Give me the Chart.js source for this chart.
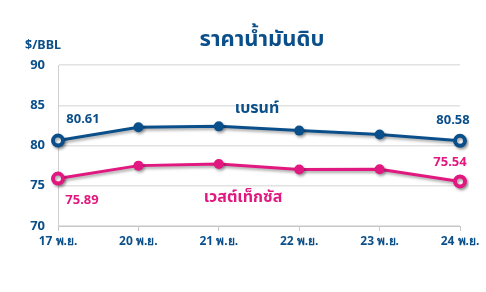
<!DOCTYPE html>
<html>
<head>
<meta charset="utf-8">
<script src="https://cdn.jsdelivr.net/npm/chart.js@4.4.0/dist/chart.umd.min.js"></script>
<style>
  html, body { margin: 0; padding: 0; background: #fff; }
  #wrap { position: relative; width: 486px; height: 292px; }
</style>
</head>
<body>
<div id="wrap"><canvas id="oil-chart"></canvas></div>
<script>
const days = ['17 พ.ย.', '20 พ.ย.', '21 พ.ย.', '22 พ.ย.', '23 พ.ย.', '24 พ.ย.'];
const brent = [80.61, 82.26, 82.38, 81.85, 81.36, 80.58];
const wti = [75.89, 77.50, 77.70, 77.02, 77.05, 75.54];
const y_ticks = [70, 75, 80, 85, 90];

const navy = '#0b4f8a';
const pink = '#e0187f';
const thai_font = "'Noto Sans Thai', 'Noto Sans', Tahoma, sans-serif";
const num_font = "'Noto Sans', Tahoma, sans-serif";

// hollow markers on the first and last point only
const isEnd = (arr, i) => i == 0 || i == arr.length - 1;
const pointRadius = (arr) => arr.map((v, i) => isEnd(arr, i) ? 5 : 5);
const pointFill = (arr, c) => arr.map((v, i) => isEnd(arr, i) ? '#fff' : c);
const pointBorder = (arr) => arr.map((v, i) => isEnd(arr, i) ? 4 : 0);

const shadowPlugin = {
  id: 'shadow',
  beforeDatasetsDraw(chart) {
    const ctx = chart.ctx;
    ctx.save();
    ctx.shadowColor = 'rgba(0,0,0,0.35)';
    ctx.shadowBlur = 3;
    ctx.shadowOffsetX = 1.5;
    ctx.shadowOffsetY = 2;
  },
  afterDatasetsDraw(chart) {
    chart.ctx.restore();
  },
};

const labelsPlugin = {
  id: 'labels',
  afterDraw(chart) {
    const ctx = chart.ctx;
    const x = chart.scales.x;
    const y = chart.scales.y;
    const last = days.length - 1;
    ctx.save();
    ctx.textBaseline = 'middle';
    ctx.textAlign = 'center';

    // title, centred over the plot area
    ctx.font = 'bold 22px ' + thai_font;
    ctx.fillStyle = navy;
    ctx.fillText('ราคาน้ำมันดิบ', 262, 42);

    ctx.font = 'bold 13px ' + num_font;
    ctx.fillStyle = navy;
    ctx.fillText(brent[0].toFixed(2), x.getPixelForValue(0) + 25, y.getPixelForValue(brent[0]) - 21);
    ctx.fillText(brent[last].toFixed(2), x.getPixelForValue(last) - 7, y.getPixelForValue(brent[last]) - 21);
    ctx.fillStyle = pink;
    ctx.fillText(wti[0].toFixed(2), x.getPixelForValue(0) + 24, y.getPixelForValue(wti[0]) + 22);
    ctx.fillText(wti[last].toFixed(2), x.getPixelForValue(last) - 10, y.getPixelForValue(wti[last]) - 19);

    ctx.font = 'bold 16px ' + thai_font;
    ctx.fillStyle = navy;
    ctx.fillText('เบรนท์', 257, 110);
    ctx.fillStyle = pink;
    ctx.fillText('เวสต์เท็กซัส', 243, 199);

    ctx.font = 'bold 12.5px ' + num_font;
    ctx.fillStyle = navy;
    ctx.textAlign = 'left';
    ctx.fillText('$/BBL', 25, 45);
    ctx.restore();
  },
};

const chart = new Chart(document.getElementById('oil-chart').getContext('2d'), {
  type: 'line',
  data: {
    labels: days,
    datasets: [
      {
        label: 'เบรนท์',
        data: brent,
        borderColor: navy,
        backgroundColor: navy,
        borderWidth: 3,
        pointRadius: pointRadius(brent),
        pointBackgroundColor: pointFill(brent, navy),
        pointBorderColor: navy,
        pointBorderWidth: pointBorder(brent),
        tension: 0,
      },
      {
        label: 'เวสต์เท็กซัส',
        data: wti,
        borderColor: pink,
        backgroundColor: pink,
        borderWidth: 3,
        pointRadius: pointRadius(wti),
        pointBackgroundColor: pointFill(wti, pink),
        pointBorderColor: pink,
        pointBorderWidth: pointBorder(wti),
        tension: 0,
      },
    ],
  },
  options: {
    responsive: true,
    maintainAspectRatio: false,
    animation: false,
    layout: { padding: { left: 8, right: 26, top: 65, bottom: 40 } },
    plugins: {
      legend: { display: false },
      tooltip: { enabled: false },
      title: { display: false },
    },
    scales: {
      x: {
        offset: false,
        grid: { drawOnChartArea: false, drawTicks: true, tickLength: 5, color: '#c8c8c8' },
        border: { color: '#c8c8c8', width: 1 },
        ticks: {
          color: navy,
          font: { family: num_font, size: 12, weight: 'bold' },
          maxRotation: 0,
          padding: 3,
        },
        afterFit: (axis) => { axis.height = 26; },
      },
      y: {
        min: 70,
        max: 90,
        afterBuildTicks: (axis) => { axis.ticks = y_ticks.map(v => ({ value: v })); },
        afterFit: (axis) => { axis.width = 50; },
        grid: { color: '#e2e2e2', lineWidth: 1.5, drawTicks: false },
        border: { color: '#d0d0d0', width: 1 },
        ticks: {
          color: navy,
          font: { family: num_font, size: 13, weight: 'bold' },
          padding: 13,
        },
      },
    },
  },
  plugins: [shadowPlugin, labelsPlugin],
});
</script>
</body>
</html>
